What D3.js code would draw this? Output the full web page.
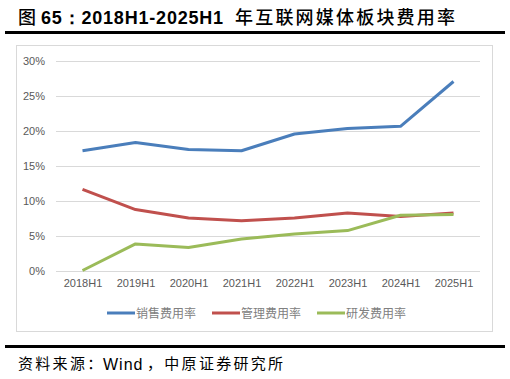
<!DOCTYPE html>
<html><head><meta charset="utf-8">
<script src="https://cdn.jsdelivr.net/npm/d3@7"></script>
<style>body{margin:0;background:#fff;}svg{display:block;}</style>
</head><body>
<script>
const categories = ["2018H1","2019H1","2020H1","2021H1","2022H1","2023H1","2024H1","2025H1"];
const salesRate = [17.1, 18.3, 17.3, 17.1, 19.5, 20.3, 20.6, 27.0];
const adminRate = [11.6, 8.7, 7.5, 7.1, 7.5, 8.2, 7.7, 8.2];
const rdRate = [0.0, 3.8, 3.3, 4.5, 5.2, 5.7, 7.9, 8.0];
const seriesNames = ["销售费用率","管理费用率","研发费用率"];
const yTicks = [0,5,10,15,20,25,30];
const colors = ["#4A7EBB","#C0504D","#9BBB59"];

const W=510,H=379;
const svg=d3.select("body").append("svg").attr("width",W).attr("height",H);

// title
const cjk="'Noto Sans CJK SC'";
const lat="'Liberation Sans',Arial,sans-serif";
svg.append("text").attr("x",18).attr("y",24).attr("font-size",18).attr("font-family",cjk).attr("font-weight","500").attr("fill","#000").text("图");
svg.append("text").attr("x",41).attr("y",24).attr("font-size",18).attr("font-family",lat).attr("font-weight","bold").attr("letter-spacing",0.8).attr("fill","#000").text("65：2018H1-2025H1");
svg.append("text").attr("x",235).attr("y",24).attr("font-size",18).attr("font-family",cjk).attr("font-weight","500").attr("letter-spacing",2.2).attr("fill","#000").text("年互联网媒体板块费用率");

svg.append("rect").attr("x",5).attr("y",31).attr("width",500).attr("height",3).attr("fill","#000");
svg.append("rect").attr("x",5).attr("y",345).attr("width",500).attr("height",3).attr("fill","#000");

// footer
svg.append("text").attr("x",18).attr("y",369).attr("font-size",15).attr("letter-spacing",2.3).attr("font-family",cjk).attr("fill","#000").text("资料来源：");
svg.append("text").attr("x",103).attr("y",370).attr("font-size",16).attr("letter-spacing",1).attr("font-family",lat).attr("fill","#000").text("Wind");
svg.append("text").attr("x",147).attr("y",369).attr("font-size",15).attr("letter-spacing",2.3).attr("font-family",cjk).attr("fill","#000").text("，中原证券研究所");

// chart border
svg.append("rect").attr("x",16.5).attr("y",45.5).attr("width",476).attr("height",286).attr("fill","none").attr("stroke","#D9D9D9");

const x=d3.scalePoint().domain(categories).range([82.5,453.5]);
const y=d3.scaleLinear().domain([0,30]).range([270.5,60.5]);

// gridlines
svg.append("g").selectAll("line").data(yTicks).join("line")
  .attr("x1",56).attr("x2",480).attr("y1",d=>Math.round(y(d))+0.5).attr("y2",d=>Math.round(y(d))+0.5)
  .attr("stroke","#D9D9D9").attr("stroke-width",1);

const yAxis=svg.append("g").attr("transform","translate(56,0)")
  .call(d3.axisLeft(y).tickValues(yTicks).tickFormat(d=>d+"%").tickSize(0).tickPadding(11));
yAxis.select(".domain").remove();
yAxis.selectAll("text").attr("font-family",lat).attr("font-size",11).attr("fill","#595959");

const xAxis=svg.append("g").attr("transform","translate(0,271)")
  .call(d3.axisBottom(x).tickSize(0).tickPadding(8));
xAxis.select(".domain").remove();
xAxis.selectAll("text").attr("font-family",lat).attr("font-size",11).attr("fill","#595959");

const seriesData=[salesRate,adminRate,rdRate];
const line=d3.line().x((d,i)=>x(categories[i])).y(d=>y(d));
seriesData.forEach((s,k)=>{
  svg.append("path").datum(s).attr("d",line).attr("fill","none")
    .attr("stroke",colors[k]).attr("stroke-width",3).attr("stroke-linejoin","round").attr("stroke-linecap","butt");
});

// legend
const legX=[107,212,317];
seriesNames.forEach((n,k)=>{
  const g=svg.append("g").attr("transform",`translate(${legX[k]},313)`);
  g.append("line").attr("x1",0).attr("x2",28).attr("y1",0).attr("y2",0).attr("stroke",colors[k]).attr("stroke-width",3);
  g.append("text").attr("x",29).attr("y",4.5).attr("font-family",cjk).attr("font-size",12).attr("fill","#808080").text(n);
});
</script>
</body></html>
